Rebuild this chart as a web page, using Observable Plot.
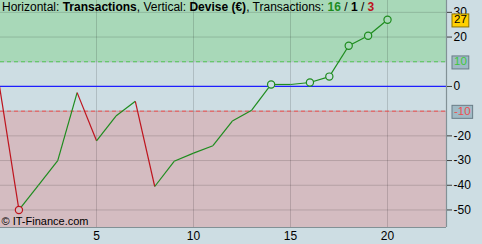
<!DOCTYPE html>
<html><head><meta charset="utf-8">
<script src="https://cdn.jsdelivr.net/npm/d3@7"></script>
<script src="https://cdn.jsdelivr.net/npm/@observablehq/plot@0.6"></script>
<style>
body{margin:0;background:rgb(205,221,227);font-family:"Liberation Sans",Arial,sans-serif;}
#c{position:relative;width:482px;height:244px;}
</style></head><body><div id="c"></div>
<script>
const trades = [0,1,2,3,4,5,6,7,8,9,10,11,12,13,14,15,16,17,18,19,20];
const equity = [0,-50,-40,-30,-2.5,-22,-12,-6,-40.5,-30.3,-27,-24,-14,-9.6,0.8,0.8,1.6,4,16.5,20.5,27];
const circled = [1,14,16,17,18,19,20];
const xDomain = [0.05,23.04];
const yDomain = [-57.1,34.8];
const xTicks = [5,10,15,20];
const yTicks = [30,20,10,0,-10,-20,-30,-40,-50];
const boldTicks = [0,-50];
const upper = 10, lower = -10;
const counts = [16,1,3];

const pts = trades.map((t,i)=>({x:t,y:equity[i]}));
const segs = pts.slice(1).map((p,i)=>({x1:pts[i].x,y1:pts[i].y,x2:p.x,y2:p.y,up:p.y>=pts[i].y}));
const bands = [
  {y1:upper,y2:yDomain[1],fill:"rgb(168,216,184)"},
  {y1:lower,y2:upper,fill:"rgb(205,221,227)"},
  {y1:yDomain[0],y2:lower,fill:"rgb(212,188,193)"}
];
const bandFill = v => v>upper?"rgb(168,216,184)":v<lower?"rgb(212,188,193)":"rgb(205,221,227)";
const dots = circled.map(i=>({x:trades[i],y:equity[i],up:segs[i-1].up}));
const last = equity[equity.length-1];
const boxes = [
  {y:upper,text:String(upper),fill:"rgb(160,186,197)",stroke:"rgb(105,125,135)",color:"rgb(60,200,60)"},
  {y:lower,text:String(lower),fill:"rgb(160,186,197)",stroke:"rgb(105,125,135)",color:"rgb(235,80,80)"},
  {y:last,text:String(last),fill:"rgb(255,208,0)",stroke:"rgb(140,115,0)",color:"rgb(0,0,0)"}
];
const plainTicks = yTicks.filter(t=>t!==upper&&t!==lower);
const green="rgb(30,140,30)", red="rgb(190,20,30)";

const chart = Plot.plot({
  width:482,height:244,marginLeft:0,marginRight:36,marginTop:0,marginBottom:17,
  x:{domain:xDomain},
  y:{domain:yDomain},
  style:{fontFamily:"Liberation Sans, Arial, sans-serif",fontSize:"11.5px",background:"transparent",color:"black"},
  marks:[
    Plot.rect(bands,{y1:"y1",y2:"y2",fill:"fill"}),
    Plot.ruleX(xTicks,{stroke:"black",strokeOpacity:0.15}),
    Plot.ruleY(yTicks,{stroke:"black",strokeOpacity:0.15}),
    Plot.ruleY([upper],{stroke:"rgb(80,200,80)",strokeDasharray:"4,3"}),
    Plot.ruleY([lower],{stroke:"rgb(240,80,80)",strokeDasharray:"4,3"}),
    Plot.ruleY([0],{stroke:"rgb(30,30,255)",strokeWidth:1.2}),
    Plot.ruleY([yDomain[0]],{stroke:"rgb(130,145,150)",strokeWidth:1.2}),
    Plot.ruleX([xDomain[1]],{stroke:"rgb(130,145,150)",strokeWidth:1.2}),
    Plot.link(segs,{x1:"x1",y1:"y1",x2:"x2",y2:"y2",stroke:d=>d.up?green:red,strokeWidth:1.2,clip:true}),
    Plot.dot(dots,{x:"x",y:"y",r:3.6,stroke:d=>d.up?green:red,strokeWidth:1.2,fill:d=>bandFill(d.y)}),
    Plot.axisX(xTicks,{tickSize:0,tickPadding:4,fontSize:12}),
    Plot.axisY(plainTicks,{anchor:"right",tickSize:5,tickFormat:()=>"",stroke:"rgb(60,60,60)"}),
    Plot.text(plainTicks,{y:d=>d,text:d=>String(d),frameAnchor:"right",dx:7,textAnchor:"start",fontSize:12,fontWeight:d=>boldTicks.includes(d)?"bold":"normal"}),
    Plot.text(boxes,{y:"y",text:"text",frameAnchor:"right",dx:7.5,textAnchor:"start",fontSize:11.5,fill:"color"}),
    Plot.text(["© IT-Finance.com"],{frameAnchor:"bottom-left",dx:1,dy:-3,text:d=>d,fontSize:11,textAnchor:"start"})
  ]
});
document.getElementById("c").appendChild(chart);
const svg = d3.select(chart);
svg.selectAll("text").each(function(){
  const bx = boxes.find(b=>b.text===this.textContent && d3.color(this.getAttribute("fill")||"none")+""===d3.color(b.color)+"");
  if (!bx) return;
  const b = this.getBBox();
  const r = d3.select(this.parentNode).insert("rect",()=>this)
    .attr("x",b.x-2).attr("y",b.y+0.5).attr("width",b.width+4).attr("height",b.height+1)
    .attr("fill",bx.fill).attr("stroke",bx.stroke).attr("stroke-width",1);
  const tr = this.getAttribute("transform");
  if (tr) r.attr("transform",tr);
});
const t = svg.append("text").attr("x",2).attr("y",11).attr("font-size","12px").attr("fill","black").attr("text-anchor","start");
t.append("tspan").text("Horizontal: ");
t.append("tspan").attr("font-weight","bold").text("Transactions");
t.append("tspan").text(", Vertical: ");
t.append("tspan").attr("font-weight","bold").text("Devise (€)");
t.append("tspan").text(", Transactions: ");
t.append("tspan").attr("font-weight","bold").attr("fill",green).text(counts[0]);
t.append("tspan").text(" / ");
t.append("tspan").attr("font-weight","bold").text(counts[1]);
t.append("tspan").text(" / ");
t.append("tspan").attr("font-weight","bold").attr("fill",red).text(counts[2]);
</script></body></html>
